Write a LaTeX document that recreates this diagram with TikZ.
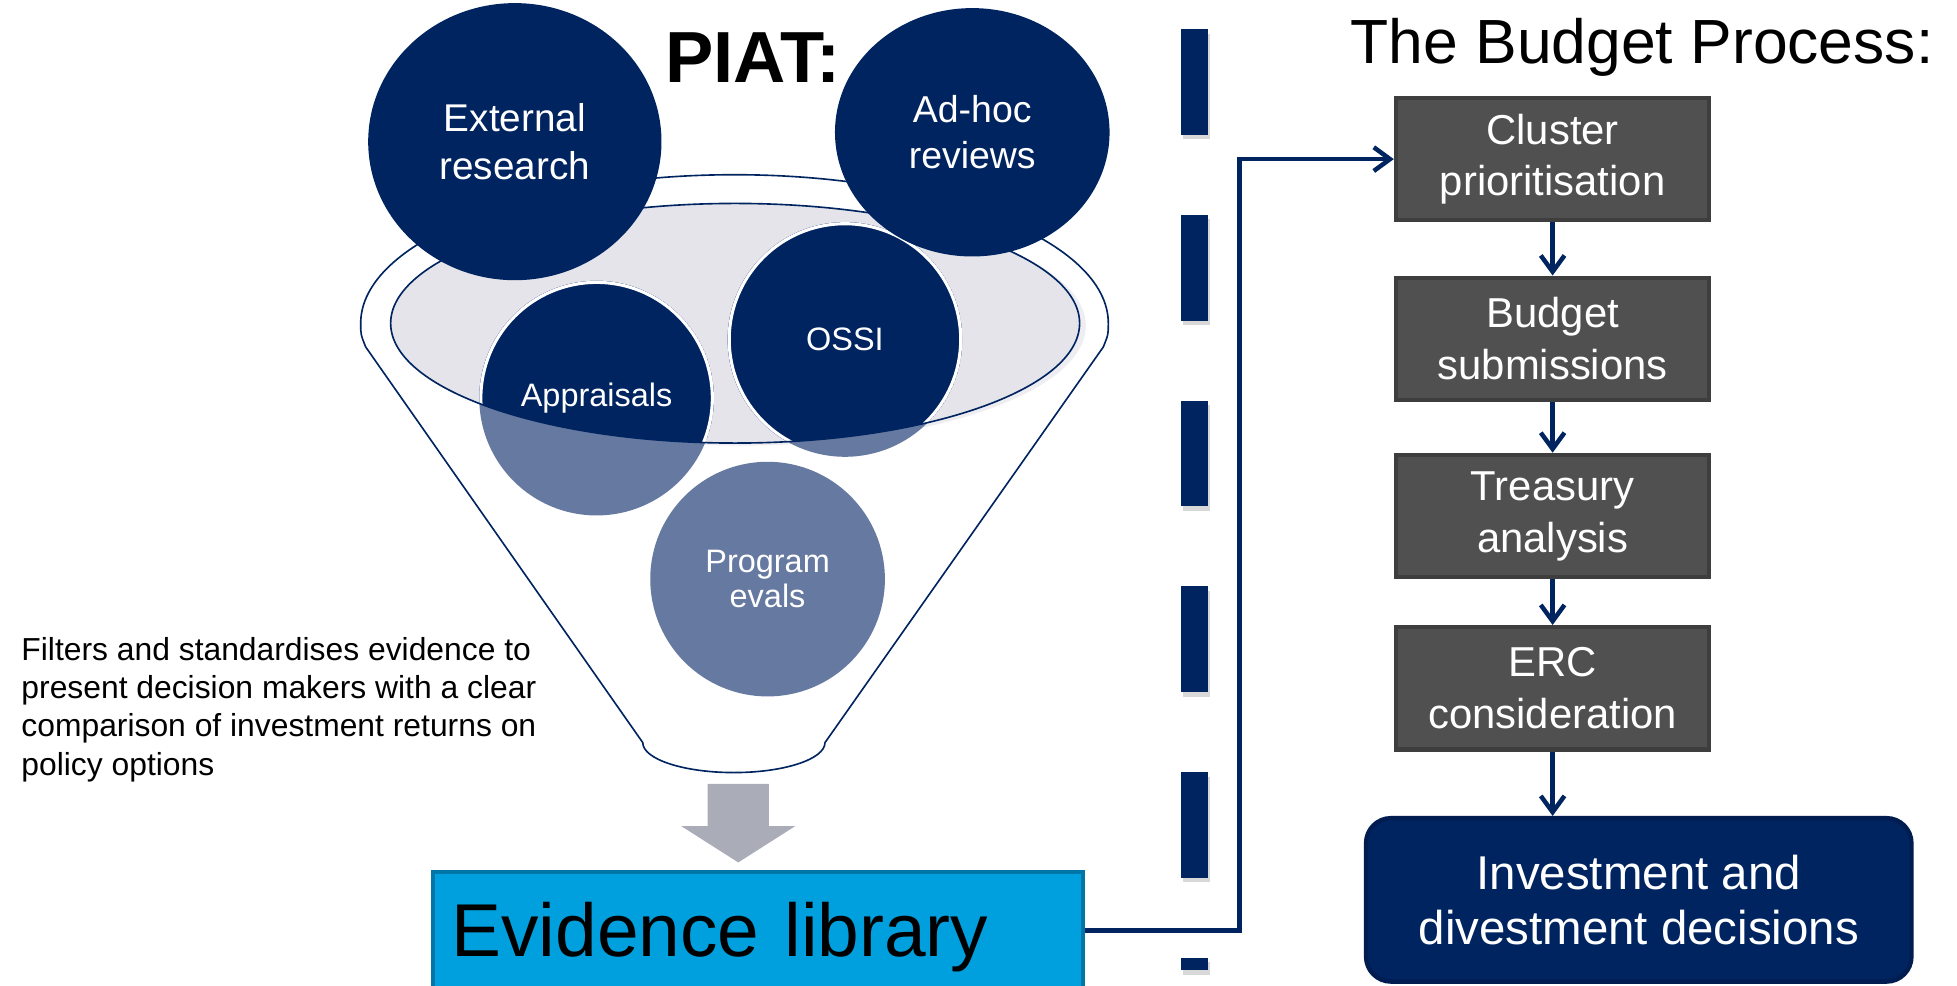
\documentclass[tikz,border=0pt]{standalone}
\usepackage{fontspec}
\setmainfont{Liberation Sans}
\usepackage{tikz}
\usetikzlibrary{arrows.meta, shapes.geometric}

\definecolor{navy}{RGB}{0,36,96}
\definecolor{navyedge}{RGB}{0,28,80}
\definecolor{lightnavy}{RGB}{102,121,160}
\definecolor{rimgrey}{RGB}{228,228,234}
\definecolor{rimshade}{RGB}{238,238,242}
\definecolor{boxgrey}{RGB}{80,80,80}
\definecolor{boxedge}{RGB}{62,62,62}
\definecolor{libblue}{RGB}{0,160,222}
\definecolor{libedge}{RGB}{0,118,168}
\definecolor{pushgrey}{RGB}{170,172,184}

\begin{document}
\begin{tikzpicture}[x=1pt, y=1pt,
	bigcirc/.style={ellipse, fill=navy, inner sep=0, text=white, align=center, font=\fontsize{31}{38}\selectfont},
	smallcirc/.style={circle, fill=lightnavy, inner sep=0, minimum size=188, text=white, align=center, font=\fontsize{26}{28.5}\selectfont},
	incup/.style={path picture={
		\begin{scope}
			\clip (rim.center) ellipse[x radius=276, y radius=96];
			\fill[navy] (path picture bounding box.center) circle[radius=94];
			\draw[white, line width=5] (path picture bounding box.center) circle[radius=94];
		\end{scope}}},
	budget/.style={rectangle, fill=boxgrey, draw=boxedge, line width=3.5, text=white, minimum width=251, minimum height=98, align=center, font=\fontsize{33.5}{41.5}\selectfont},
	flow/.style={navy, line width=3.6, -{Straight Barb[length=13pt, width=19pt]}}]
	\useasboundingbox (0,0) rectangle (1568,790);

	% funnel
	\draw[navy, line width=1.3, fill=white] (289,531) arc[start angle=180, end angle=0, x radius=299.5, y radius=119]
		.. controls (888,522) .. (884,512) -- (661,195)
		arc[start angle=0, end angle=-180, x radius=73, y radius=24]
		-- (293,512) .. controls (289,522) .. (289,531) -- cycle;
	\fill[rimshade] (594,529) ellipse[x radius=276, y radius=96];
	\node[ellipse, fill=rimgrey, minimum width=552, minimum height=192, inner sep=0] (rim) at (589,531) {};

	% sources
	\node[smallcirc, incup] (appr) at (478,471) {Appraisals};
	\node[smallcirc, incup] (ossi) at (677,518) {OSSI};
	\draw[navy, line width=1.3] (rim.center) ellipse[x radius=276, y radius=96];
	\node[smallcirc] (evals) at (615,326) {Program\\evals};
	\node[bigcirc, minimum width=235, minimum height=222] (ext) at (412.5,676.5) {External\\research};
	\node[bigcirc, minimum width=220, minimum height=199, font=\fontsize{30}{37}\selectfont] (adhoc) at (779,684) {Ad-hoc\\reviews};

	\node[anchor=base west, inner sep=0, font=\bfseries\fontsize{58}{60}\selectfont] (piat) at (533,723.7) {PIAT:};
	\node[anchor=base west, inner sep=0, font=\fontsize{50}{60}\selectfont] (title) at (1082,739.3) {The Budget Process:};

	\node[anchor=north west, inner sep=0, align=left, font=\fontsize{25.5}{30.7}\selectfont] (note) at (17,279.8) {Filters and standardises evidence to\\present decision makers with a clear\\comparison of investment returns on\\policy options};

	% down arrow
	\fill[pushgrey] (567,162) -- (616,162) -- (616,128) -- (637,128) -- (591.5,99) -- (546,128) -- (567,128) -- cycle;
	\node[rectangle, anchor=north west, fill=libblue, draw=libedge, line width=3.5, minimum height=105, inner xsep=15, text width=491, align=left, font=\fontsize{60}{72}\selectfont] (lib) at (345,93) {Evidence library};

	% divider
	\draw[black!30, opacity=0.5, line width=21.6, dash pattern=on 84.7pt off 64.1pt] (958.3,763) -- (958.3,9.2);
	\draw[navy, line width=21.6, dash pattern=on 84.7pt off 64.1pt] (956.8,766.5) -- (956.8,12.7);

	% budget process
	\node[budget] (clus) at (1244,662.5) {Cluster\\prioritisation};
	\node[budget] (subm) at (1244,518.5) {Budget\\submissions};
	\node[budget] (treas) at (1244,376.5) {Treasury\\analysis};
	\node[budget] (erc) at (1244,238.5) {ERC\\consideration};
	\node[rectangle, rounded corners=20, fill=navy, draw=navyedge, line width=3.5, minimum width=437, minimum height=131, text=white, align=center, font=\fontsize{38}{44}\selectfont] (decis) at (1313,69) {Investment and\\divestment decisions};

	\coordinate (bend) at (993,662.5);
	\draw[flow] ([yshift=5.9pt]lib.east) -| (bend) -- (clus.west);
	\draw[flow] (clus) -- (subm);
	\draw[flow] (subm) -- (treas);
	\draw[flow] (treas) -- (erc);
	\draw[flow] (erc) -- (erc |- decis.north);
\end{tikzpicture}
\end{document}
